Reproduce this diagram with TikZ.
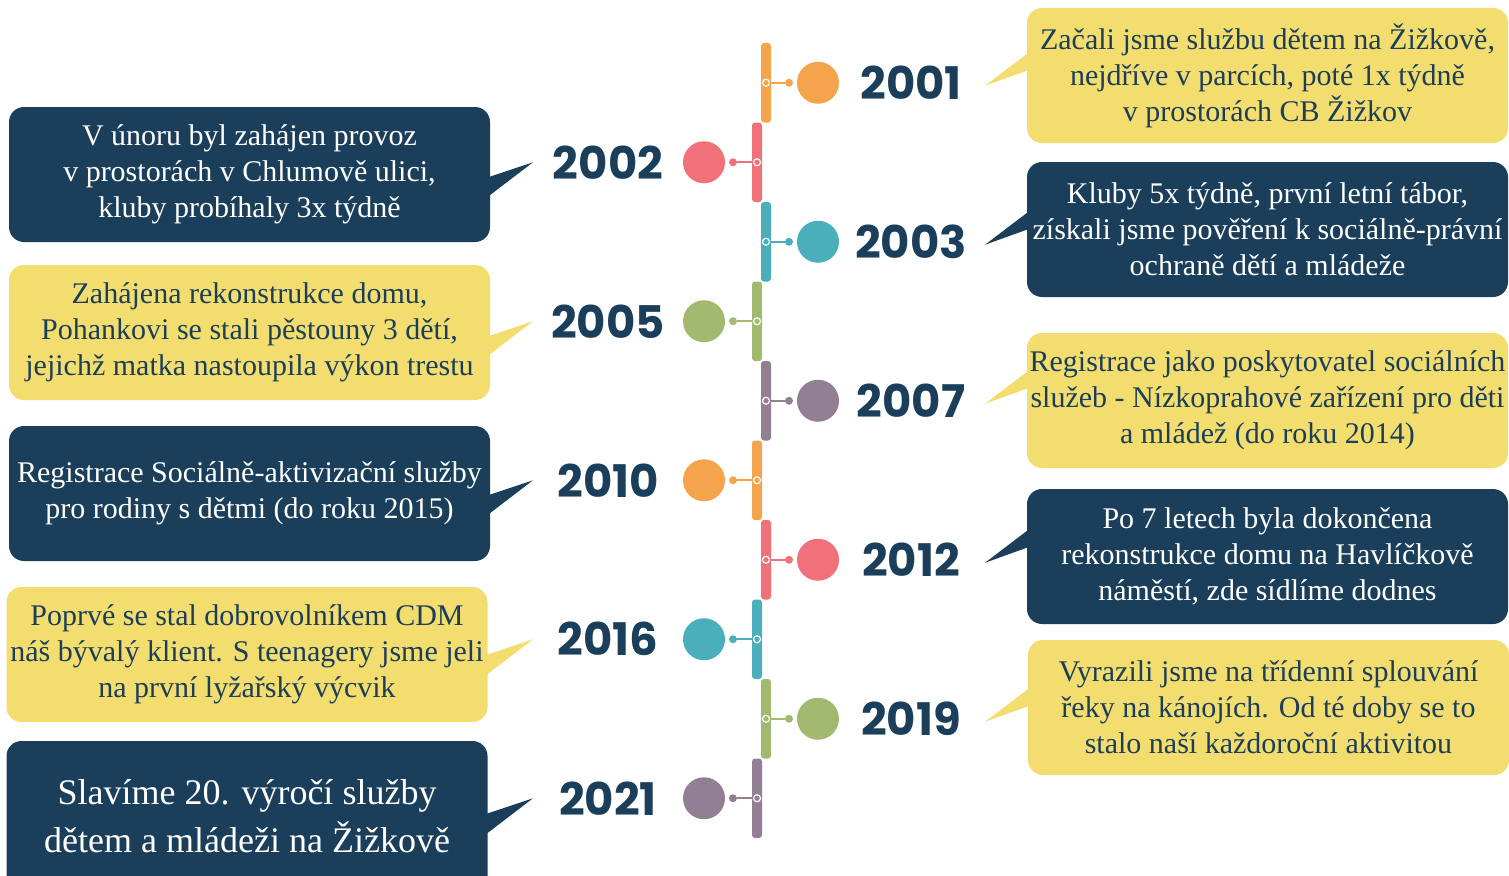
\documentclass[tikz,border=0pt]{standalone}
\usepackage{fontspec}
\setmainfont{Liberation Serif}
\newfontfamily\yearfont{Poppins}

\definecolor{navy}{HTML}{1B3F5A}
\definecolor{tlorange}{HTML}{F4A44C}
\definecolor{tlpink}{HTML}{F0717A}
\definecolor{tlteal}{HTML}{4AAFBA}
\definecolor{tlgreen}{HTML}{A3B96F}
\definecolor{tlpurple}{HTML}{927F93}
\definecolor{tlyellow}{HTML}{F3DD6E}

\tikzset{
  bigdot/.style={circle, fill=#1, minimum size=42pt, inner sep=0pt},
  pindot/.style={circle, fill=#1, minimum size=8pt, inner sep=0pt},
  ring/.style={circle, fill=#1, draw=white, line width=1.2pt, minimum size=7pt, inner sep=0pt},
  year/.style={font=\yearfont\bfseries\fontsize{45}{45}\selectfont, text=navy},
  bubble/.style={rectangle, rounded corners=15pt, fill=#1, minimum width=481pt,
    minimum height=135pt, align=center, inner sep=0pt, font=\fontsize{30}{36}\selectfont},
}

\begin{document}
\begin{tikzpicture}[x=1pt, y=-1pt]
  \clip (0,0) rectangle (1509,875);

  % Right side years
  \foreach \yr/\col/\k/\bc in {2001/tlorange/0/tlyellow, 2003/tlteal/2/navy,
      2007/tlpurple/4/tlyellow, 2012/tlpink/6/navy, 2019/tlgreen/8/tlyellow} {
    \pgfmathsetmacro\yc{82.75+79.5*\k}
    \fill[\col, rounded corners=3pt] (761,\yc-39.75) rectangle (771,\yc+39.75);
    \node[bigdot=\col] (c\yr) at (818,\yc) {};
    \node[pindot=\col] (p\yr) at (789,\yc) {};
    \node[ring=\col] (r\yr) at (766,\yc) {};
    \draw[\col, line width=2pt] (r\yr) -- (p\yr);
    \node[year] (y\yr) at (911,\yc) {\yr};
    \coordinate (t\yr) at (985,\yc+3);
    \fill[\bc] (t\yr) -- (1035,\yc-35) -- (1035,\yc-15) -- cycle;
  }

  % Left side years
  \foreach \yr/\col/\k/\bc in {2002/tlpink/1/navy, 2005/tlgreen/3/tlyellow,
      2010/tlorange/5/navy, 2016/tlteal/7/tlyellow, 2021/tlpurple/9/navy} {
    \pgfmathsetmacro\yc{82.75+79.5*\k}
    \fill[\col, rounded corners=3pt] (752,\yc-39.75) rectangle (762,\yc+39.75);
    \node[bigdot=\col] (c\yr) at (704,\yc) {};
    \node[pindot=\col] (p\yr) at (733,\yc) {};
    \node[ring=\col] (r\yr) at (757,\yc) {};
    \draw[\col, line width=2pt] (r\yr) -- (p\yr);
    \node[year] (y\yr) at (608,\yc) {\yr};
    \coordinate (t\yr) at (533,\yc);
    \fill[\bc] (t\yr) -- (482,\yc+17) -- (482,\yc+39) -- cycle;
  }

  % Bubbles
  \node[bubble=tlyellow, text=navy] (b2001) at (1267.5,75.5)
    {Začali jsme službu dětem na Žižkově,\\ nejdříve v parcích, poté 1x týdně\\ v prostorách CB Žižkov};
  \node[bubble=navy, text=white] (b2003) at (1267.5,229.5)
    {Kluby 5x týdně, první letní tábor,\\ získali jsme pověření k sociálně-právní\\ ochraně dětí a mládeže};
  \node[bubble=tlyellow, text=navy] (b2007) at (1267.5,400.5)
    {Registrace jako poskytovatel sociálních\\ služeb - Nízkoprahové zařízení pro děti\\ a mládež (do roku 2014)};
  \node[bubble=navy, text=white] (b2012) at (1267.5,556.5)
    {Po 7 letech byla dokončena\\ rekonstrukce domu na Havlíčkově\\ náměstí, zde sídlíme dodnes};
  \node[bubble=tlyellow, text=navy] (b2019) at (1268.5,707.5)
    {Vyrazili jsme na třídenní splouvání\\ řeky na kánojích. Od té doby se to\\ stalo naší každoroční aktivitou};

  \node[bubble=navy, text=white] (b2002) at (249.5,174.5)
    {V únoru byl zahájen provoz\\ v prostorách v Chlumově ulici,\\ kluby probíhaly 3x týdně};
  \node[bubble=tlyellow, text=navy] (b2005) at (249.5,332.5)
    {Zahájena rekonstrukce domu,\\ Pohankovi se stali pěstouny 3 dětí,\\ jejichž matka nastoupila výkon trestu};
  \node[bubble=navy, text=white] (b2010) at (249.5,493.5)
    {Registrace Sociálně-aktivizační služby\\ pro rodiny s dětmi (do roku 2015)};
  \node[bubble=tlyellow, text=navy] (b2016) at (247,654.5)
    {Poprvé se stal dobrovolníkem CDM\\ náš bývalý klient. S teenagery jsme jeli\\ na první lyžařský výcvik};
  \node[bubble=navy, text=white, minimum height=150pt,
    font=\fontsize{36}{48}\selectfont] (b2021) at (247,816)
    {Slavíme 20. výročí služby\\ dětem a mládeži na Žižkově};
\end{tikzpicture}
\end{document}
